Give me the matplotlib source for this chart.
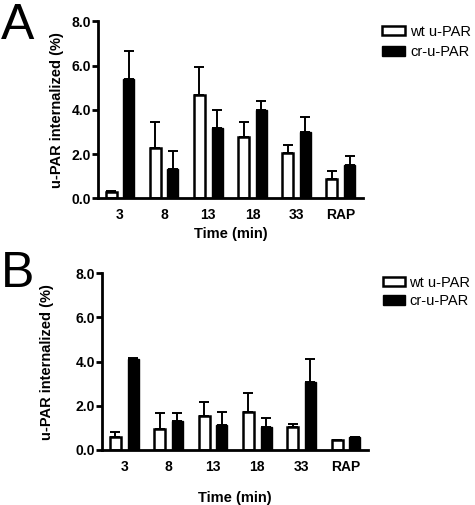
"""Two-panel bar chart: u-PAR internalization over time (wt vs cr-u-PAR)."""
import matplotlib
matplotlib.use("Agg")
import matplotlib.pyplot as plt
import numpy as np

plt.rcParams["font.family"] = ["Liberation Sans", "DejaVu Sans"]

CATEGORIES = ["3", "8", "13", "18", "33", "RAP"]
SERIES = ["wt u-PAR", "cr-u-PAR"]

# Panel A
A_WT = [0.30, 2.30, 4.66, 2.77, 2.05, 0.86]
A_WT_ERR = [0.05, 1.13, 1.26, 0.67, 0.36, 0.40]
A_CR = [5.41, 1.34, 3.20, 4.01, 2.98, 1.53]
A_CR_ERR = [1.25, 0.81, 0.80, 0.38, 0.70, 0.39]

# Panel B
B_WT = [0.60, 0.97, 1.54, 1.72, 1.06, 0.45]
B_WT_ERR = [0.22, 0.72, 0.65, 0.85, 0.12, 0.0]
B_CR = [4.10, 1.31, 1.13, 1.03, 3.08, 0.60]
B_CR_ERR = [0.04, 0.38, 0.59, 0.43, 1.02, 0.0]


def draw_panel(ax, wt, wt_err, cr, cr_err, ylabel_x, xlabel_y):
    x = np.arange(len(CATEGORIES))
    off, w = 0.20, 0.25
    ax.bar(x - off, wt, w, color="white", edgecolor="black", linewidth=1.8,
           label=SERIES[0], zorder=2)
    ax.bar(x + off, cr, w, color="black", edgecolor="black", linewidth=1.0,
           label=SERIES[1], zorder=2)
    for xs, vals, errs in ((x - off, wt, wt_err), (x + off, cr, cr_err)):
        ax.errorbar(xs, vals, yerr=[np.zeros(len(errs)), errs], fmt="none",
                    ecolor="black", elinewidth=1.4, capsize=3.5,
                    capthick=1.4, zorder=1)

    ax.set_xlim(-0.5, 5.5)
    ax.set_ylim(0, 8)
    ax.set_yticks([0, 2, 4, 6, 8])
    ax.set_yticklabels([f"{v:.1f}" for v in [0, 2, 4, 6, 8]])
    ax.set_xticks(x)
    ax.set_xticklabels(CATEGORIES)
    for s in ("top", "right"):
        ax.spines[s].set_visible(False)
    for s in ("left", "bottom"):
        ax.spines[s].set_linewidth(2.0)
    ax.tick_params(axis="y", length=4, width=2.0, pad=1, labelsize=10)
    ax.tick_params(axis="x", length=0, pad=7, labelsize=10)
    for lab in ax.get_xticklabels() + ax.get_yticklabels():
        lab.set_fontweight("bold")

    ax.set_ylabel("u-PAR internalized (%)", fontsize=10.5, fontweight="bold")
    ax.set_xlabel("Time (min)", fontsize=10.5, fontweight="bold")
    ax.yaxis.set_label_coords(ylabel_x, 0.5)
    ax.xaxis.set_label_coords(0.5, xlabel_y)


fig = plt.figure(figsize=(4.75, 5.05), dpi=100)

ax_a = fig.add_axes([0.206, 0.607, 0.558, 0.351])
draw_panel(ax_a, A_WT, A_WT_ERR, A_CR, A_CR_ERR, -0.128, -0.163)
ax_a.legend(loc="upper left", bbox_to_anchor=(0.804, 0.951),
            bbox_transform=fig.transFigure, frameon=False, fontsize=10.5,
            handlelength=1.58, handleheight=0.6, handletextpad=0.34,
            labelspacing=0.44, borderaxespad=0, borderpad=0)

ax_b = fig.add_axes([0.215, 0.109, 0.560, 0.350])
draw_panel(ax_b, B_WT, B_WT_ERR, B_CR, B_CR_ERR, -0.18, -0.233)
ax_b.legend(loc="upper left", bbox_to_anchor=(0.806, 0.454),
            bbox_transform=fig.transFigure, frameon=False, fontsize=10.5,
            handlelength=1.5, handleheight=0.6, handletextpad=0.3,
            labelspacing=0.3, borderaxespad=0, borderpad=0)

fig.text(0.002, 0.995, "A", fontsize=36, va="top", ha="left")
fig.text(0.002, 0.502, "B", fontsize=36, va="top", ha="left")

fig.savefig("out.png", dpi=100)
